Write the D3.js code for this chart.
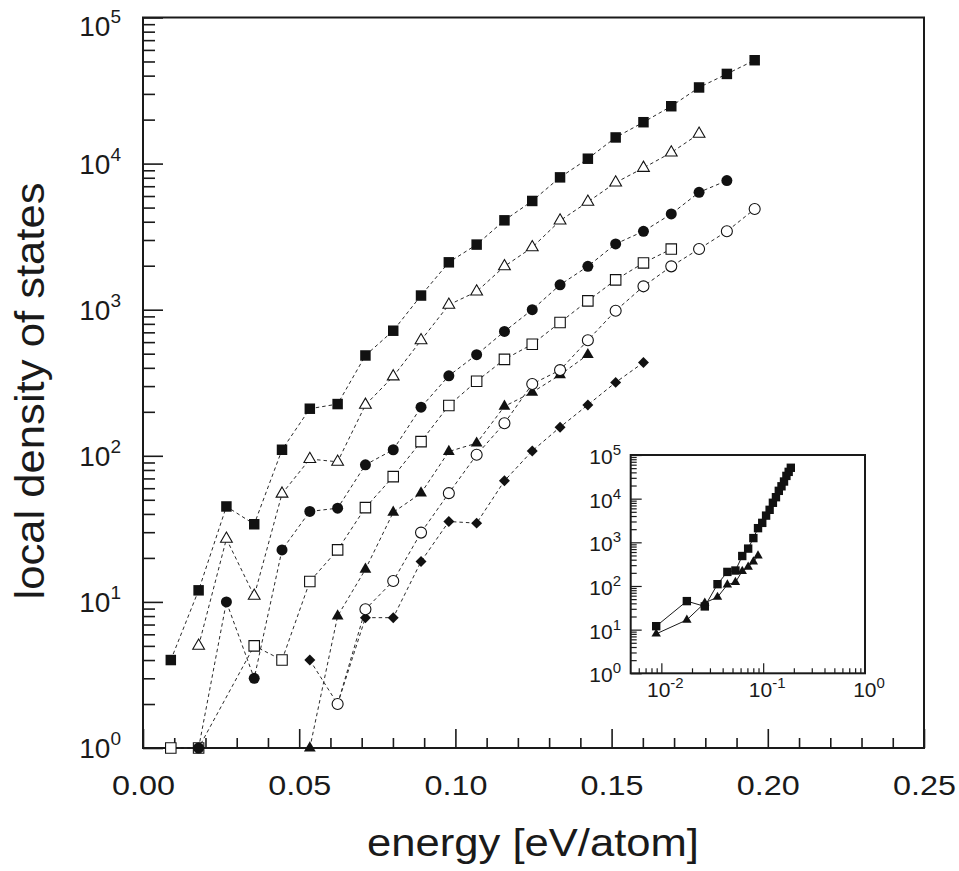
<!DOCTYPE html>
<meta charset="utf-8">
<script src="https://d3js.org/d3.v7.min.js"></script>
<style>
body { margin: 0; background: #fff; }
text { font-family: "Liberation Sans", Arial, sans-serif; fill: #1a1a1a; }
</style>
<div id="chart"></div>
<script>

// energy grid (eV/atom)
var energy = [0.0089, 0.0178, 0.0267, 0.0356, 0.0445, 0.0534, 0.0623, 0.0712, 0.0801, 0.0890, 0.0979,
              0.1068, 0.1157, 0.1246, 0.1335, 0.1424, 0.1513, 0.1602, 0.1691, 0.1780, 0.1869, 0.1958];

// local density of states, one value per energy (null = not present)
var sqFilled   = [4, 12, 45, 34, 110, 210, 226, 486, 718, 1250, 2110, 2790, 4090, 5550, 8050, 10800, 15100, 19200, 24700, 33200, 41100, 51000];
var triOpen    = [null, 5, 27, 11, 55, 95, 91, 223, 349, 617, 1080, 1330, 1980, 2670, 4070, 5470, 7410, 9340, 11900, 16000, null, null];
var circFilled = [null, 1, 10, 3, 22.7, 41.6, 43.8, 86.8, 110, 215, 353, 492, 710, 1000, 1480, 1980, 2820, 3440, 4520, 6360, 7650, null];
var sqOpen     = [1, 1, null, 5, 4, 13.8, 22.7, 44.2, 72, 125, 221, 324, 457, 580, 818, 1150, 1600, 2090, 2600, null, null, null];
var triFilled  = [null, null, null, null, null, 1, 8, 16.7, 41, 55.5, 107, 122, 218, 272, 358, 492, null, null, null, null, null, null];
var diamond    = [null, null, null, null, null, 4, 2, 7.8, 7.8, 18.9, 35.5, 34.6, 67.4, 108, 157, 223, 318, 435, null, null, null, null];
var circOpen   = [null, null, null, null, null, null, 2, 8.9, 13.9, 29.8, 55.5, 101.6, 167, 310, 386, 618, 984, 1445, 1980, 2605, 3440, 4890];

// inset: energy measured from the first occupied level of each series
var insetShiftSq = 1, insetShiftTri = 6;

var xTicks = [0, 0.05, 0.10, 0.15, 0.20, 0.25];
var xTickLabels = ["0.00", "0.05", "0.10", "0.15", "0.20", "0.25"];
var decades = [0, 1, 2, 3, 4, 5];
var insetXDecades = [-2, -1, 0];

var ink = "#1a1a1a";

var svg = d3.select("#chart").append("svg")
  .attr("width", 959)
  .attr("height", 871);

var x = d3.scaleLinear().domain([0, 0.25]).range([143, 924]);
var y = d3.scaleLog().domain([1, 1e5]).range([748, 17.5]);

// minor tick values
var yMinor = [];
decades.slice(0, 5).forEach(function(d) {
  for (var k = 2; k <= 9; k++) yMinor.push(k * Math.pow(10, d));
});
var xMinor = d3.range(0, 26).map(function(i) { return i / 100; })
  .filter(function(v, i) { return i % 5 != 0; });

// ---- main axes ----
var xAxMinor = svg.append("g")
  .attr("transform", "translate(0,748)")
  .call(d3.axisBottom(x).tickValues(xMinor).tickSizeInner(-10).tickSizeOuter(0).tickFormat(""));
var xAx = svg.append("g")
  .attr("transform", "translate(0,748)")
  .call(d3.axisBottom(x).tickValues(xTicks).tickSizeInner(-19).tickSizeOuter(0)
    .tickFormat(function(d, i) { return xTickLabels[i]; }));
xAx.selectAll("text")
  .attr("y", 47).attr("dy", null)
  .attr("font-size", 27)
  .attr("textLength", 63).attr("lengthAdjust", "spacingAndGlyphs")
  .style("fill", ink);

var yAxMinor = svg.append("g")
  .attr("transform", "translate(143,0)")
  .call(d3.axisLeft(y).tickValues(yMinor).tickSizeInner(-12).tickSizeOuter(0).tickFormat(""));
var yAx = svg.append("g")
  .attr("transform", "translate(143,0)")
  .call(d3.axisLeft(y).tickValues(decades.map(function(d) { return Math.pow(10, d); }))
    .tickSizeInner(-20).tickSizeOuter(0).tickFormat(""));

[xAxMinor, xAx, yAxMinor, yAx].forEach(function(g) {
  g.select(".domain").remove();
  g.selectAll("line").attr("stroke", ink).attr("stroke-width", 1.6);
});

decades.forEach(function(d) {
  // top label sits a little lower so it stays inside the page
  var t = svg.append("text")
    .attr("x", 121)
    .attr("y", y(Math.pow(10, d)) + 10 + (d == 5 ? 8 : 0))
    .attr("text-anchor", "end")
    .attr("font-size", 28);
  t.append("tspan").text("10");
  t.append("tspan").attr("font-size", 19).attr("dy", -13).text(d);
});

svg.append("rect")
  .attr("x", 143).attr("y", 17.5)
  .attr("width", 924 - 143).attr("height", 748 - 17.5)
  .attr("fill", "none").attr("stroke", ink).attr("stroke-width", 2);

// axis titles
svg.append("text")
  .attr("transform", "translate(533,856)")
  .attr("text-anchor", "middle")
  .attr("font-size", 38)
  .attr("textLength", 332).attr("lengthAdjust", "spacingAndGlyphs")
  .text("energy [eV/atom]");

svg.append("text")
  .attr("transform", "translate(44,391) rotate(-90)")
  .attr("text-anchor", "middle")
  .attr("font-size", 40)
  .attr("textLength", 417).attr("lengthAdjust", "spacingAndGlyphs")
  .text("local density of states");

// ---- series ----
var series = [
  {values: diamond,    shape: "diamond",  filled: true},
  {values: triFilled,  shape: "triangle", filled: true},
  {values: sqOpen,     shape: "square",   filled: false},
  {values: circFilled, shape: "circle",   filled: true},
  {values: triOpen,    shape: "triangle", filled: false},
  {values: sqFilled,   shape: "square",   filled: true},
  {values: circOpen,   shape: "circle",   filled: false}
];

function points(vals) {
  return energy.map(function(e, i) { return {e: e, v: vals[i]}; })
    .filter(function(p) { return p.v != null; });
}

function symbolPath(shape, scale) {
  scale = scale || 1;
  if (shape == "square") return d3.symbol(d3.symbolSquare, 110 * scale * scale)();
  if (shape == "circle") return d3.symbol(d3.symbolCircle, 95 * scale * scale)();
  if (shape == "triangle") return d3.symbol(d3.symbolTriangle, 60 * scale * scale)();
  return d3.symbol(d3.symbolSquare, 60 * scale * scale)();
}

var line = d3.line()
  .x(function(p) { return x(p.e); })
  .y(function(p) { return y(p.v); });

svg.append("g").selectAll("path")
  .data(series)
  .enter().append("path")
    .attr("d", function(s) { return line(points(s.values)); })
    .attr("fill", "none")
    .attr("stroke", "#2a2a2a")
    .attr("stroke-width", 1)
    .attr("stroke-dasharray", "3.5,3");

series.forEach(function(s) {
  svg.append("g").selectAll("path")
    .data(points(s.values))
    .enter().append("path")
      .attr("d", symbolPath(s.shape))
      .attr("transform", function(p) {
        return "translate(" + x(p.e) + "," + y(p.v) + ")" + (s.shape == "diamond" ? " rotate(45)" : "");
      })
      .attr("fill", s.filled ? "#111" : "#fff")
      .attr("stroke", "#111")
      .attr("stroke-width", s.filled ? 0 : 1.1);
});

// ---- inset ----
var ix = d3.scaleLog().domain([0.005, 1]).range([630.7, 865]);
var iy = d3.scaleLog().domain([1, 1e5]).range([673.3, 455]);

svg.append("rect")
  .attr("x", 630.7).attr("y", 455)
  .attr("width", 865 - 630.7).attr("height", 673.3 - 455)
  .attr("fill", "#fff");

var ixMinor = [0.006, 0.007, 0.008, 0.009];
[0.01, 0.1].forEach(function(d) { for (var k = 2; k <= 9; k++) ixMinor.push(k * d); });
var iyMinor = yMinor;

var ia = [
  svg.append("g").attr("transform", "translate(0,673.3)")
    .call(d3.axisBottom(ix).tickValues(ixMinor).tickSizeInner(-5).tickSizeOuter(0).tickFormat("")),
  svg.append("g").attr("transform", "translate(0,673.3)")
    .call(d3.axisBottom(ix).tickValues([0.01, 0.1]).tickSizeInner(-10).tickSizeOuter(0).tickFormat("")),
  svg.append("g").attr("transform", "translate(630.7,0)")
    .call(d3.axisLeft(iy).tickValues(iyMinor).tickSizeInner(-6).tickSizeOuter(0).tickFormat("")),
  svg.append("g").attr("transform", "translate(630.7,0)")
    .call(d3.axisLeft(iy).tickValues(decades.map(function(d) { return Math.pow(10, d); }))
      .tickSizeInner(-11).tickSizeOuter(0).tickFormat(""))
];
ia.forEach(function(g) {
  g.select(".domain").remove();
  g.selectAll("line").attr("stroke", ink).attr("stroke-width", 1.2);
});

svg.append("rect")
  .attr("x", 630.7).attr("y", 455)
  .attr("width", 865 - 630.7).attr("height", 673.3 - 455)
  .attr("fill", "none").attr("stroke", ink).attr("stroke-width", 2);

decades.forEach(function(d) {
  var t = svg.append("text")
    .attr("x", 621)
    .attr("y", iy(Math.pow(10, d)) + 9)
    .attr("text-anchor", "end")
    .attr("font-size", 21);
  t.append("tspan").text("10");
  t.append("tspan").attr("font-size", 15).attr("dy", -9).text(d);
});

insetXDecades.forEach(function(d) {
  var t = svg.append("text")
    .attr("x", ix(Math.pow(10, d)) + 4)
    .attr("y", 697)
    .attr("text-anchor", "middle")
    .attr("font-size", 21);
  t.append("tspan").text("10");
  t.append("tspan").attr("font-size", 15).attr("dy", -9).text(d);
});

function insetPoints(vals, shift) {
  var out = [];
  for (var i = 0; i + shift < vals.length; i++) {
    if (vals[i + shift] != null) out.push({e: energy[i], v: vals[i + shift]});
  }
  return out;
}

var inset = [
  {pts: insetPoints(sqFilled, insetShiftSq), shape: "square"},
  {pts: insetPoints(triFilled, insetShiftTri), shape: "triangle"}
];

var iline = d3.line()
  .x(function(p) { return ix(p.e); })
  .y(function(p) { return iy(p.v); });

inset.forEach(function(s) {
  svg.append("path")
    .attr("d", iline(s.pts))
    .attr("fill", "none")
    .attr("stroke", ink)
    .attr("stroke-width", 1);
});
inset.forEach(function(s) {
  svg.append("g").selectAll("path")
    .data(s.pts)
    .enter().append("path")
      .attr("d", symbolPath(s.shape, 0.8))
      .attr("transform", function(p) { return "translate(" + ix(p.e) + "," + iy(p.v) + ")"; })
      .attr("fill", "#111");
});

</script>
